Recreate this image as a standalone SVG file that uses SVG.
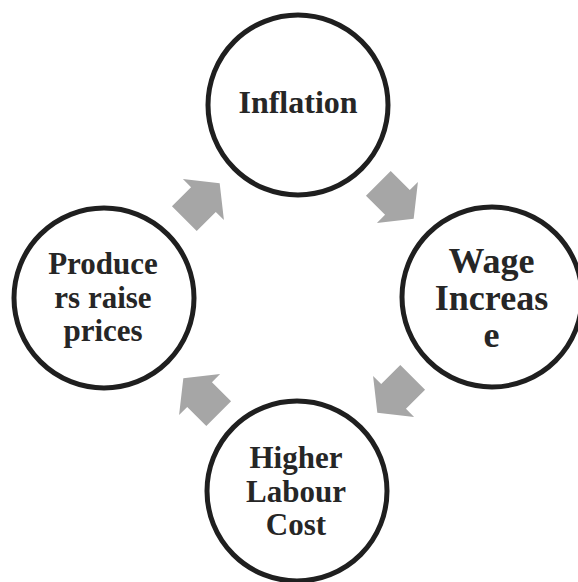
<svg xmlns="http://www.w3.org/2000/svg" width="578" height="582" viewBox="0 0 578 582">
<style>
.node circle{fill:#ffffff;stroke:#1f1f1f;stroke-width:5}
.node text{font-family:"Liberation Serif","Times New Roman",serif;font-weight:bold;fill:#262626;text-anchor:middle}
.arrow{fill:#a6a6a6}
</style>
<defs>
<polygon id="blockArrow" points="-25,-17.5 2,-17.5 2,-29 25,0 2,29 2,17.5 -25,17.5"/>
</defs>
<rect width="578" height="582" fill="#ffffff"/>
<g id="connectors">
<use href="#blockArrow" class="arrow" transform="translate(202,201) rotate(-45)"/>
<use href="#blockArrow" class="arrow" transform="translate(396,201) rotate(45)"/>
<use href="#blockArrow" class="arrow" transform="translate(395,395) rotate(135)"/>
<use href="#blockArrow" class="arrow" transform="translate(201,396) rotate(-135)"/>
</g>
<g id="node-inflation" class="node">
<circle cx="298" cy="105" r="90"/>
<text x="298" y="113" font-size="32">Inflation</text>
</g>
<g id="node-wage" class="node">
<circle cx="492" cy="297" r="90"/>
<text x="491.5" y="273" font-size="36">Wage</text>
<text x="491.5" y="310" font-size="36">Increas</text>
<text x="491.5" y="347" font-size="36">e</text>
</g>
<g id="node-labour" class="node">
<circle cx="297" cy="491" r="90"/>
<text x="296" y="468" font-size="31">Higher</text>
<text x="296" y="502" font-size="31">Labour</text>
<text x="296" y="535" font-size="31">Cost</text>
</g>
<g id="node-producers" class="node">
<circle cx="104" cy="298" r="90"/>
<text x="103" y="274" font-size="31">Produce</text>
<text x="103" y="308" font-size="31">rs raise</text>
<text x="103" y="341" font-size="31">prices</text>
</g>
</svg>
